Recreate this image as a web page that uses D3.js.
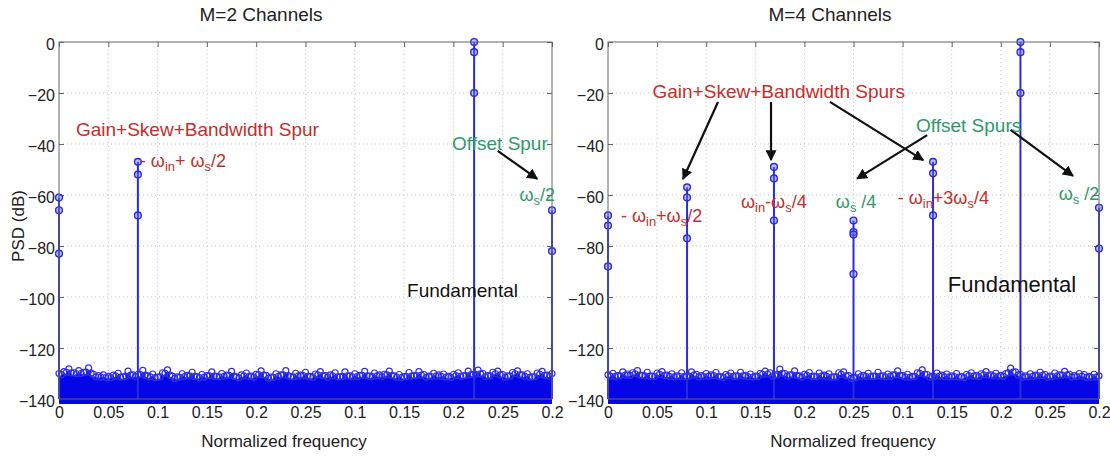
<!DOCTYPE html>
<html>
<head>
<meta charset="utf-8">
<script src="https://cdn.jsdelivr.net/npm/d3@7/dist/d3.min.js"></script>
<style>
  body { margin: 0; background: #fff; }
  svg { display: block; font-family: "Liberation Sans", Arial, sans-serif; }
</style>
</head>
<body>
<svg id="chart" width="1110" height="457"></svg>
<script>
// ---- data ----
const xTickValues = [0, 0.05, 0.1, 0.15, 0.2, 0.25, 0.3, 0.35, 0.4, 0.45, 0.5];
const xTickLabels = ["0", "0.05", "0.1", "0.15", "0.2", "0.25", "0.1", "0.15", "0.2", "0.25", "0.2"];
const yTickValues = [0, -20, -40, -60, -80, -100, -120, -140];

// stems: frequency + marker levels (dB)
const m2StemFreq = [0, 0.080, 0.421, 0.5];
const m2StemLevels = [[-61, -66, -83], [-47, -52, -68], [0, -4, -20], [-66, -82]];

const m4StemFreq = [0, 0.0805, 0.169, 0.250, 0.331, 0.420, 0.5];
const m4StemLevels = [[-68, -72, -88], [-57, -61, -77], [-49, -53.5, -70], [-70, -74.5, -75.5, -91],
                      [-47, -51.5, -68], [0, -4, -20], [-65, -81]];

// top edge of the noise floor, every 0.005 of normalized frequency
const m2NoiseTop = [
  -130.0,-129.3,-128.2,-129.7,-128.9,-129.5,-127.8,-130.3,-130.8,-130.5,
  -131.1,-130.6,-129.9,-131.3,-129.1,-130.5,-130.4,-128.8,-130.9,-130.2,
  -131.4,-129.7,-128.6,-131.0,-131.3,-130.1,-130.7,-129.5,-131.2,-130.4,
  -130.8,-129.4,-131.1,-130.0,-130.6,-129.2,-131.3,-130.5,-129.8,-131.0,
  -130.3,-129.0,-130.7,-131.4,-130.1,-130.5,-128.9,-131.2,-129.9,-130.6,
  -129.5,-131.1,-130.2,-129.3,-130.8,-130.5,-129.7,-131.3,-129.4,-130.9,
  -130.1,-130.7,-129.2,-131.0,-129.8,-130.5,-130.3,-129.1,-130.9,-130.4,
  -131.2,-129.6,-130.8,-129.3,-130.4,-131.0,-129.9,-130.5,-130.2,-131.1,
  -130.4,-129.7,-130.9,-129.1,-130.3,-128.7,-130.0,-130.8,-129.5,-129.1,
  -130.4,-130.9,-129.6,-129.0,-130.5,-130.1,-131.3,-129.8,-129.2,-130.6,-130.0
];
const m4NoiseTop = [
  -130.5,-129.9,-130.8,-129.4,-130.2,-129.7,-128.9,-130.7,-129.5,-131.0,
  -129.8,-129.3,-130.6,-130.1,-130.9,-129.7,-131.1,-129.4,-130.3,-130.8,
  -130.0,-130.5,-129.6,-131.2,-130.4,-129.8,-130.9,-129.5,-130.7,-130.2,
  -131.0,-129.9,-129.1,-129.7,-130.8,-128.3,-130.0,-130.5,-129.0,-130.9,
  -130.3,-129.6,-131.1,-129.8,-130.6,-130.1,-131.3,-129.7,-129.4,-130.8,
  -131.5,-130.1,-130.7,-129.9,-131.0,-129.5,-130.9,-130.2,-130.5,-129.0,
  -130.8,-130.3,-131.1,-129.7,-128.6,-130.4,-131.0,-129.8,-130.6,-130.2,
  -130.9,-130.0,-131.2,-130.4,-129.7,-130.8,-130.1,-129.3,-130.5,-129.9,
  -130.7,-130.0,-127.9,-129.4,-130.3,-130.9,-130.1,-130.6,-129.5,-130.4,
  -131.0,-129.8,-130.5,-129.2,-130.3,-130.8,-130.0,-130.4,-131.1,-130.3,-130.9
];

const RED = "#c0302c";
const GREEN = "#2e9a68";
const BLUE = "#2a2ae0";

// annotations: parts are [string, isSubscript]; x in freq, y in dB
const m2Labels = [
  { parts: [["Gain+Skew+Bandwidth Spur", 0]], x: 0.0172, y: -36.9, color: RED, size: 19 },
  { parts: [["- \u03c9", 0], ["in", 1], ["+ \u03c9", 0], ["s", 1], ["/2", 0]], x: 0.082, y: -49, color: RED, size: 18 },
  { parts: [["Offset Spur", 0]], x: 0.3986, y: -42.4, color: GREEN, size: 19 },
  { parts: [["\u03c9", 0], ["s", 1], ["/2", 0]], x: 0.467, y: -62.5, color: GREEN, size: 18 },
  { parts: [["Fundamental", 0]], x: 0.353, y: -100, color: "#111", size: 19 }
];
const m2Arrows = [[0.445, -42.7, 0.485, -53.7]];

const m4Labels = [
  { parts: [["Gain+Skew+Bandwidth Spurs", 0]], x: 0.0453, y: -22, color: RED, size: 19 },
  { parts: [["Offset Spurs", 0]], x: 0.3136, y: -35.3, color: GREEN, size: 19 },
  { parts: [["- \u03c9", 0], ["in", 1], ["+\u03c9", 0], ["s", 1], ["/2", 0]], x: 0.0132, y: -70.6, color: RED, size: 18 },
  { parts: [["\u03c9", 0], ["in", 1], ["-\u03c9", 0], ["s", 1], ["/4", 0]], x: 0.1354, y: -65, color: RED, size: 18 },
  { parts: [["\u03c9", 0], ["s", 1], [" /4", 0]], x: 0.232, y: -65, color: GREEN, size: 18 },
  { parts: [["- \u03c9", 0], ["in", 1], ["+3\u03c9", 0], ["s", 1], ["/4", 0]], x: 0.295, y: -63.5, color: RED, size: 18 },
  { parts: [["\u03c9", 0], ["s", 1], [" /2", 0]], x: 0.459, y: -62, color: GREEN, size: 18 },
  { parts: [["Fundamental", 0]], x: 0.346, y: -98, color: "#111", size: 22 }
];
const m4Arrows = [
  [0.112, -23.5, 0.0764, -53.7],
  [0.166, -23.5, 0.166, -46.3],
  [0.226, -23.5, 0.321, -46.3],
  [0.325, -36.5, 0.2536, -53.6],
  [0.410, -34.5, 0.4735, -52.5]
];

const panels = [
  { title: "M=2 Channels", titleX: 261, xlabelX: 284, left: 59, right: 552, ylabel: true,
    freq: m2StemFreq, levels: m2StemLevels, noise: m2NoiseTop, labels: m2Labels, arrows: m2Arrows },
  { title: "M=4 Channels", titleX: 830, xlabelX: 853, left: 608, right: 1099, ylabel: false,
    freq: m4StemFreq, levels: m4StemLevels, noise: m4NoiseTop, labels: m4Labels, arrows: m4Arrows }
];

const TOP = 42, BOTTOM = 399;
const svg = d3.select("#chart");

svg.append("defs").append("marker")
  .attr("id", "arrowhead")
  .attr("viewBox", "0 0 10 10")
  .attr("refX", 9).attr("refY", 5)
  .attr("markerWidth", 5).attr("markerHeight", 5)
  .attr("orient", "auto")
  .append("path").attr("d", "M0,0 L10,5 L0,10 z").attr("fill", "#111");

panels.forEach((p, pi) => {
  const x = d3.scaleLinear().domain([0, 0.5]).range([p.left, p.right]);
  const y = d3.scaleLinear().domain([-140, 0]).range([BOTTOM, TOP]);
  const g = svg.append("g");

  g.append("clipPath").attr("id", "clip" + pi)
    .append("rect").attr("x", p.left - 6).attr("y", TOP - 6)
    .attr("width", p.right - p.left + 12).attr("height", BOTTOM - TOP + 11);

  // grid
  g.append("g").selectAll("line").data(xTickValues.slice(1, -1)).join("line")
    .attr("x1", d => x(d)).attr("x2", d => x(d)).attr("y1", TOP).attr("y2", BOTTOM)
    .attr("stroke", "#c4c4c4").attr("stroke-dasharray", "1,3");
  g.append("g").selectAll("line").data(yTickValues.slice(1, -1)).join("line")
    .attr("y1", d => y(d)).attr("y2", d => y(d)).attr("x1", p.left).attr("x2", p.right)
    .attr("stroke", "#c4c4c4").attr("stroke-dasharray", "1,3");

  // axes (ticks inside, MATLAB style)
  const xb = d3.axisBottom(x).tickValues(xTickValues).tickSize(-5).tickPadding(8)
    .tickFormat((d, i) => xTickLabels[i]);
  const xt = d3.axisTop(x).tickValues(xTickValues).tickSize(-5).tickFormat("");
  const yl = d3.axisLeft(y).tickValues(yTickValues).tickSize(-5).tickPadding(4);
  const yr = d3.axisRight(y).tickValues(yTickValues).tickSize(-5).tickFormat("");
  const styleAxis = a => {
    a.select(".domain").remove();
    a.selectAll("line").attr("stroke", "#666");
    a.selectAll("text").attr("fill", "#222").style("font-size", "16px")
      .style("font-family", "Liberation Sans, Arial, sans-serif");
  };
  g.append("g").attr("transform", `translate(0,${BOTTOM})`).call(xb).call(styleAxis);
  g.append("g").attr("transform", `translate(0,${TOP})`).call(xt).call(styleAxis);
  g.append("g").attr("transform", `translate(${p.left},0)`).call(yl).call(styleAxis)
    .selectAll("text").attr("dy", "0.45em");
  g.append("g").attr("transform", `translate(${p.right},0)`).call(yr).call(styleAxis);

  // noise floor
  const noiseF = p.noise.map((v, i) => i * 0.005);
  const plot = g.append("g").attr("clip-path", `url(#clip${pi})`);
  const area = d3.area().x((d, i) => x(noiseF[i])).y0(y(-142)).y1(d => y(d - 1.0))
    .curve(d3.curveStep);
  plot.append("path").datum(p.noise).attr("d", area).attr("fill", "#0505e8");
  plot.append("g").selectAll("circle").data(p.noise).join("circle")
    .attr("cx", (d, i) => x(noiseF[i])).attr("cy", d => y(d))
    .attr("r", 3).attr("fill", "none").attr("stroke", "#2f2fe0").attr("stroke-width", 1.2);
  // half-step extra markers so the edge looks dense
  plot.append("g").selectAll("circle").data(p.noise.slice(1)).join("circle")
    .attr("cx", (d, i) => x((noiseF[i] + noiseF[i + 1]) / 2)).attr("cy", (d, i) => y((d + p.noise[i]) / 2 - 0.8))
    .attr("r", 3).attr("fill", "none").attr("stroke", "#2f2fe0").attr("stroke-width", 1.2);

  // stems
  const stems = plot.append("g").selectAll("g").data(p.freq).join("g");
  stems.append("line")
    .attr("x1", d => x(d)).attr("x2", d => x(d))
    .attr("y1", y(-140)).attr("y2", (d, i) => y(d3.max(p.levels[i])))
    .attr("stroke", BLUE).attr("stroke-width", 2);
  stems.selectAll("circle").data((d, i) => p.levels[i].map(v => [d, v])).join("circle")
    .attr("cx", d => x(d[0])).attr("cy", d => y(d[1])).attr("r", 3.4)
    .attr("fill", "rgba(110,110,240,0.45)").attr("stroke", BLUE).attr("stroke-width", 1.4);

  // frame
  g.append("rect").attr("x", p.left).attr("y", TOP)
    .attr("width", p.right - p.left).attr("height", BOTTOM - TOP)
    .attr("fill", "none").attr("stroke", "#666").attr("stroke-width", 1);

  // title & labels
  g.append("text").attr("x", p.titleX).attr("y", 21).attr("text-anchor", "middle")
    .style("font-size", "19px").attr("fill", "#222").text(p.title);
  g.append("text").attr("x", p.xlabelX).attr("y", 447).attr("text-anchor", "middle")
    .style("font-size", "17px").attr("fill", "#222").text("Normalized frequency");
  if (p.ylabel) {
    g.append("text").attr("transform", "translate(24,226) rotate(-90)")
      .attr("text-anchor", "middle").style("font-size", "17px").attr("fill", "#222").text("PSD (dB)");
  }

  // arrows
  g.append("g").selectAll("line").data(p.arrows).join("line")
    .attr("x1", d => x(d[0])).attr("y1", d => y(d[1]))
    .attr("x2", d => x(d[2])).attr("y2", d => y(d[3]))
    .attr("stroke", "#111").attr("stroke-width", 2.2).attr("marker-end", "url(#arrowhead)");

  // annotation text
  p.labels.forEach(l => {
    const t = g.append("text").attr("x", x(l.x)).attr("y", y(l.y))
      .attr("fill", l.color).style("font-size", l.size + "px");
    let sub = false;
    l.parts.forEach(([s, isSub]) => {
      const ts = t.append("tspan").text(s);
      if (isSub && !sub) { ts.attr("dy", "0.3em").style("font-size", (l.size * 0.72) + "px"); sub = true; }
      else if (!isSub && sub) { ts.attr("dy", "-0.22em"); sub = false; }
    });
  });
});
</script>
</body>
</html>
